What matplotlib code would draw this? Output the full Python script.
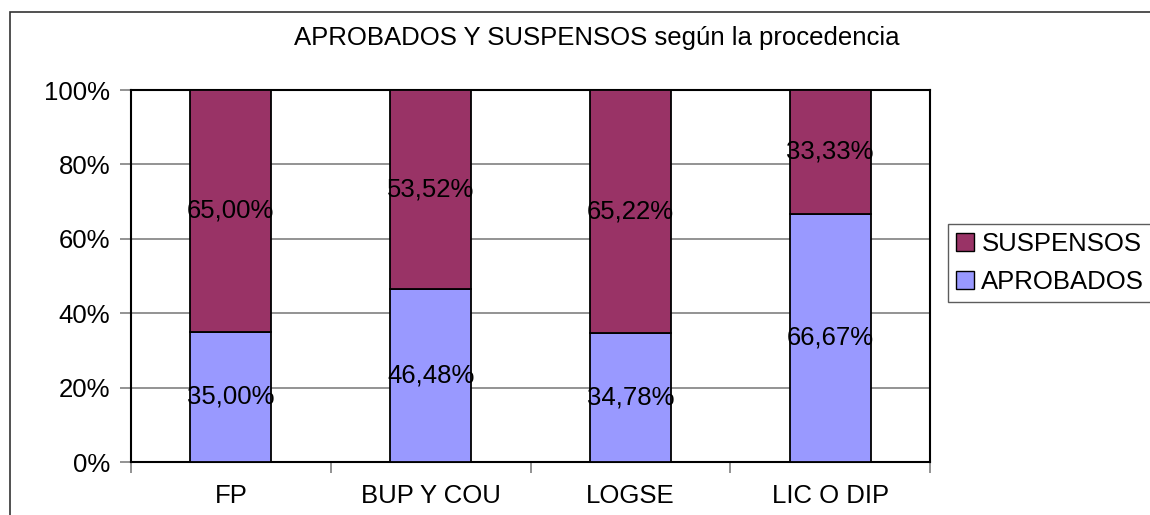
import matplotlib.pyplot as plt
from matplotlib.patches import Rectangle, Patch

plt.rcParams['font.family'] = ['Liberation Sans', 'DejaVu Sans']

categorias = ['FP', 'BUP Y COU', 'LOGSE', 'LIC O DIP']
aprobados = [35.00, 46.48, 34.78, 66.67]
suspensos = [65.00, 53.52, 65.22, 33.33]

col_apr = '#9999FF'
col_sus = '#993366'
fs = 18.5

fig = plt.figure(figsize=(11.5, 5.15), dpi=100)
ax = fig.add_axes([131 / 1150, 1 - 462 / 515, 799 / 1150, 372 / 515])

# marco del gráfico
fig.patches.append(Rectangle((10 / 1150, -0.1), 1.2, 1 - 12 / 515 + 0.1,
                             transform=fig.transFigure, fill=False,
                             edgecolor='#333333', linewidth=1.2))

x = list(range(len(categorias)))
ancho = 0.405
ax.bar(x, aprobados, ancho, color=col_apr, edgecolor='black', linewidth=1.3, zorder=3)
ax.bar(x, suspensos, ancho, bottom=aprobados, color=col_sus, edgecolor='black',
       linewidth=1.3, zorder=3)

for i in x:
    ax.text(i, aprobados[i] / 2, f"{aprobados[i]:.2f}%".replace('.', ','),
            ha='center', va='center', fontsize=fs, zorder=4)
    ax.text(i, aprobados[i] + suspensos[i] / 2, f"{suspensos[i]:.2f}%".replace('.', ','),
            ha='center', va='center', fontsize=fs, zorder=4)

ax.set_xlim(-0.5, len(categorias) - 0.5)
ax.set_ylim(0, 100)
ax.set_yticks([0, 20, 40, 60, 80, 100])
ax.set_yticklabels([f"{v}%" for v in [0, 20, 40, 60, 80, 100]], fontsize=fs)
ax.yaxis.grid(True, color='#808080', linewidth=1.2, zorder=0)
ax.tick_params(axis='y', length=8, width=1.2, color='#808080', pad=7)

ax.set_xticks(x)
ax.set_xticklabels(categorias, fontsize=fs)
ax.set_xticks([i - 0.5 for i in range(len(categorias) + 1)], minor=True)
ax.tick_params(axis='x', which='major', length=0, pad=16)
ax.tick_params(axis='x', which='minor', length=8, width=1.2, color='#808080')

for s in ax.spines.values():
    s.set_color('black')
    s.set_linewidth(1.5)

fig.text(597 / 1150, 1 - 38 / 515,
         'APROBADOS Y SUSPENSOS según la procedencia',
         ha='center', va='center', fontsize=fs)

handles = [Patch(facecolor=col_sus, edgecolor='black', label='SUSPENSOS'),
           Patch(facecolor=col_apr, edgecolor='black', label='APROBADOS')]
leg = fig.legend(handles=handles, loc='upper left',
                 bbox_to_anchor=(948 / 1150, 1 - 224 / 515), fontsize=fs,
                 frameon=True, fancybox=False, handlelength=0.7, handleheight=0.7,
                 handletextpad=0.3, borderpad=0.3, labelspacing=0.55, borderaxespad=0)
leg.get_frame().set_edgecolor('#333333')
leg.get_frame().set_linewidth(1.0)

fig.savefig('out.png', dpi=100)
